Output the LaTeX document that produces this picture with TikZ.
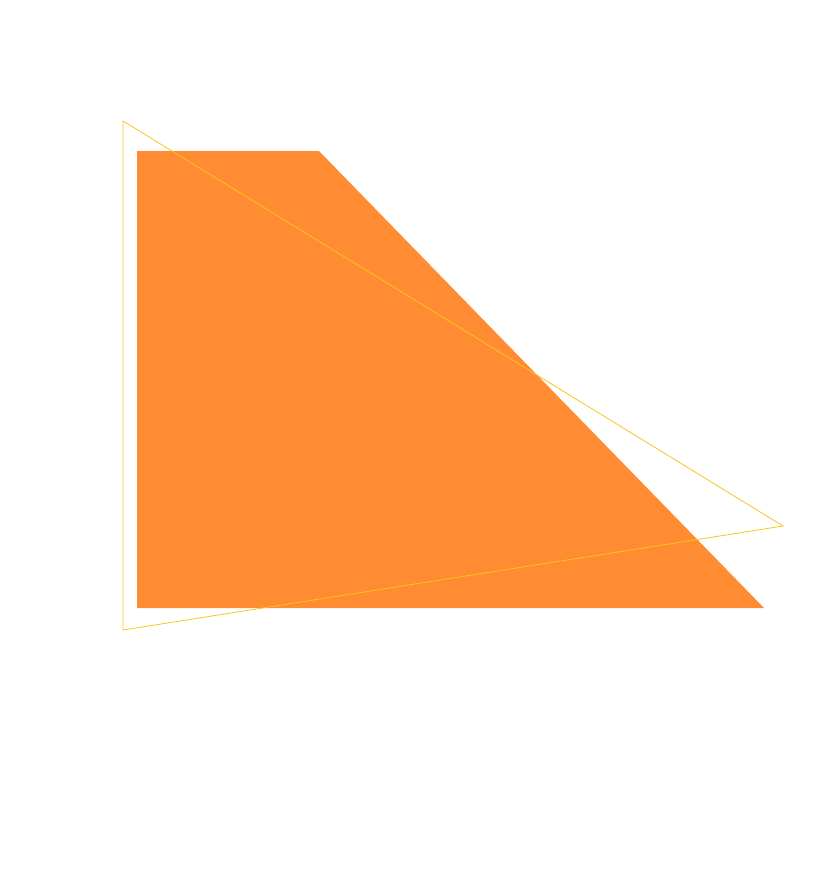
\documentclass[tikz,border=0pt]{standalone}
\usepackage{tikz}
\definecolor{shapeorange}{RGB}{255, 140, 51}
\definecolor{lineyellow}{RGB}{250, 196, 30}
\tikzstyle{trapfill} = [fill=shapeorange, draw=none]
\tikzstyle{trioutline} = [draw=lineyellow, line width=0.8pt, line join=miter]

\begin{document}
\begin{tikzpicture}[x=1pt, y=-1pt]
    % Canvas
    \useasboundingbox (0, 0) rectangle (817, 871);
    
    % Trapezoid corners
    \coordinate (tl) at (137, 151);
    \coordinate (tr) at (319, 151);
    \coordinate (br) at (764, 608);
    \coordinate (bl) at (137, 608);
    \fill[trapfill] (tl) -- (tr) -- (br) -- (bl) -- cycle;
    
    % Triangle corners
    \coordinate (top) at (123, 121);
    \coordinate (tip) at (783, 526);
    \coordinate (bottom) at (123, 630);
    \draw[trioutline] (top) -- (tip) -- (bottom) -- cycle;
\end{tikzpicture}
\end{document}
